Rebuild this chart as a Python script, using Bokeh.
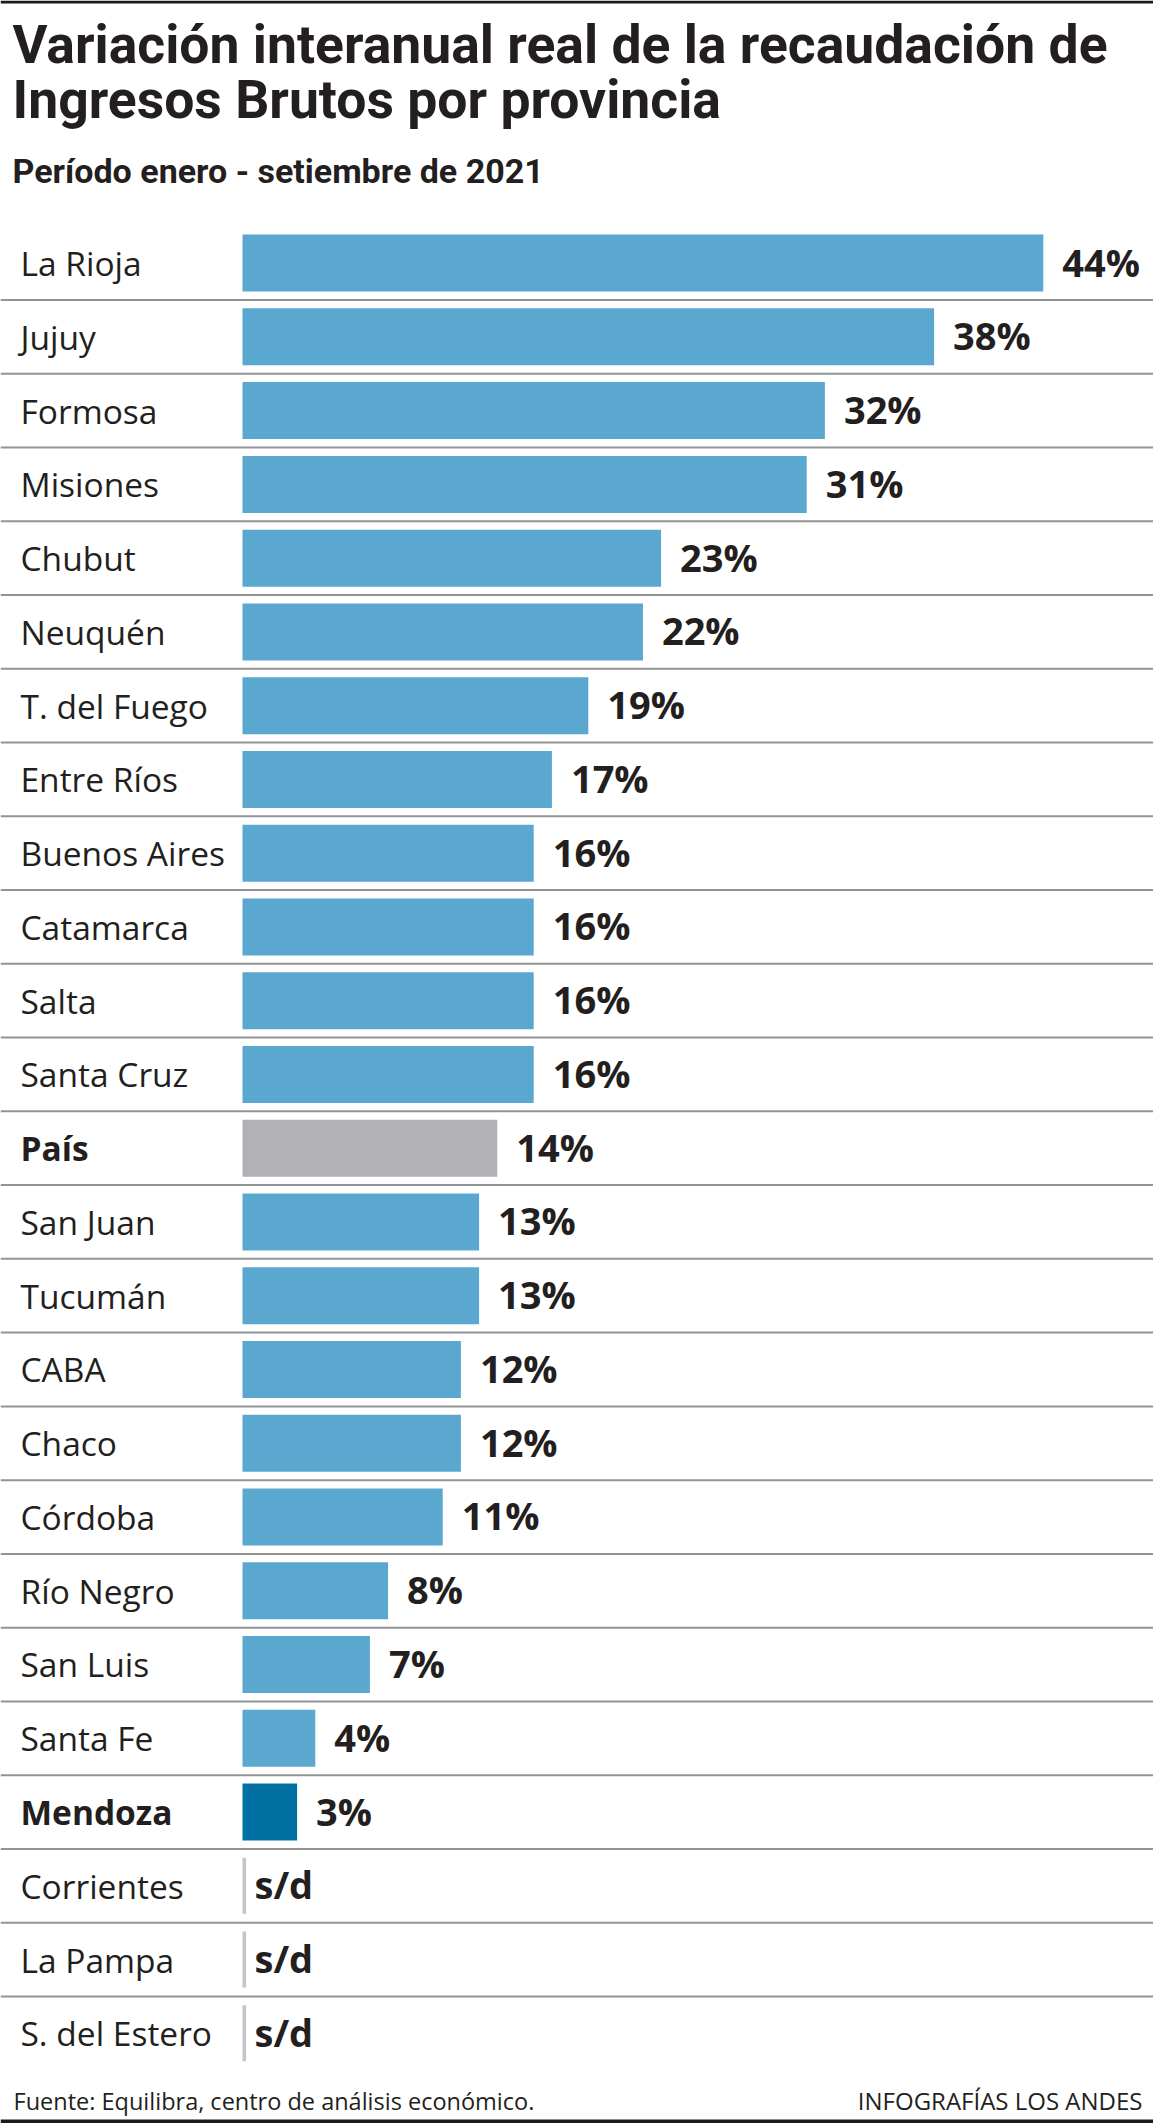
from bokeh.plotting import figure
from bokeh.models import Range1d, Label, ColumnDataSource
from bokeh.embed import file_html
from bokeh.resources import INLINE
from bokeh.core.properties import value

# ---------------- data ----------------
provinces = ["La Rioja", "Jujuy", "Formosa", "Misiones", "Chubut", "Neuquén",
             "T. del Fuego", "Entre Ríos", "Buenos Aires", "Catamarca", "Salta",
             "Santa Cruz", "País", "San Juan", "Tucumán", "CABA", "Chaco",
             "Córdoba", "Río Negro", "San Luis", "Santa Fe", "Mendoza",
             "Corrientes", "La Pampa", "S. del Estero"]
values = [44, 38, 32, 31, 23, 22, 19, 17, 16, 16, 16, 16, 14, 13, 13, 12, 12,
          11, 8, 7, 4, 3, None, None, None]
bold_rows = ["País", "Mendoza"]
special_colors = {"País": "#b1b1b6", "Mendoza": "#0071a2"}
base_color = "#5aa8d0"
missing_text = "s/d"

title_lines = ["Variación interanual real de la recaudación de",
               "Ingresos Brutos por provincia"]
subtitle = "Período enero - setiembre de 2021"
source_text = "Fuente: Equilibra, centro de análisis económico."
credit_text = "INFOGRAFÍAS LOS ANDES"

# ---------------- layout ----------------
W, H = 1153, 2123
X0_PX, PX_PER_PCT = 242.0, 18.2
ROW0_PX, ROW_PITCH = 262.6, 73.76
SHIFT = 0.33  # empirical baseline correction (fraction of font size)

def dx(px):
    return (px - X0_PX) / PX_PER_PCT

def dy(py):
    return (py - ROW0_PX) / ROW_PITCH

def fpx(s):
    return f"{s:.1f}px"

TXT = "#231f20"
HEAD = "Roboto"
REG = "Open Sans"

p = figure(width=W, height=H,
           x_range=Range1d(dx(0), dx(W)),
           y_range=Range1d(dy(H), dy(0)),
           output_backend="svg", toolbar_location=None,
           x_axis_location=None, y_axis_location=None,
           min_border=0)
p.grid.visible = False
p.outline_line_color = None
p.background_fill_color = "white"
p.border_fill_color = "white"

n = len(provinces)
idx = list(range(n))

# separators
sep_y = [i + 0.5 for i in range(n - 1)]
p.segment(x0=dx(0), x1=dx(W), y0=sep_y, y1=sep_y,
          line_color="#939393", line_width=2)

# top / bottom rules
p.quad(left=dx(0), right=dx(W), top=dy(0), bottom=dy(3), fill_color="#1a1a1a", line_color=None)
p.quad(left=dx(0), right=dx(W), top=dy(2119), bottom=dy(H), fill_color="#1a1a1a", line_color=None)

VAL_FS = 38
CAT_FS = 33.5

def base_y(i, fs):
    # row centre + half cap height, minus empirical correction
    return i + (11 - SHIFT * fs) / ROW_PITCH

# bars
bar_y, bar_v, bar_c, lab_x, lab_y, lab_t = [], [], [], [], [], []
miss_y = []
for i, (name, v) in enumerate(zip(provinces, values)):
    if v is None:
        miss_y.append(i)
        continue
    bar_y.append(i)
    bar_v.append(v)
    bar_c.append(special_colors.get(name, base_color))
    lab_x.append(v + 19 / PX_PER_PCT)
    lab_y.append(base_y(i, VAL_FS))
    lab_t.append(f"{v}%")

bars = ColumnDataSource(dict(y=bar_y, v=bar_v, c=bar_c))
p.hbar(y="y", left=0, right="v", height=57 / ROW_PITCH, fill_color="c",
       line_color=None, source=bars)

labs = ColumnDataSource(dict(x=lab_x, y=lab_y, t=lab_t))
p.text(x="x", y="y", text="t", source=labs, text_font=value(REG),
       text_font_style="bold", text_font_size=fpx(VAL_FS), text_color=TXT,
       text_baseline="alphabetic", text_align="left")

# missing-data markers
p.hbar(y=miss_y, left=0, right=3.6 / PX_PER_PCT, height=56 / ROW_PITCH,
       fill_color="#c4c4ca", line_color=None)
p.text(x=[dx(254)] * len(miss_y), y=[base_y(i, VAL_FS) for i in miss_y],
       text=[missing_text] * len(miss_y), text_font=value(REG),
       text_font_style="bold", text_font_size=fpx(VAL_FS), text_color=TXT,
       text_baseline="alphabetic")

# category labels
norm_i = [i for i in idx if provinces[i] not in bold_rows]
bold_i = [i for i in idx if provinces[i] in bold_rows]
p.text(x=[dx(20)] * len(norm_i), y=[base_y(i, CAT_FS) for i in norm_i],
       text=[provinces[i] for i in norm_i], text_font=value(REG),
       text_font_size=fpx(CAT_FS), text_color=TXT, text_baseline="alphabetic")
p.text(x=[dx(20)] * len(bold_i), y=[base_y(i, CAT_FS) for i in bold_i],
       text=[provinces[i] for i in bold_i], text_font=value(REG),
       text_font_style="bold", text_font_size=fpx(CAT_FS), text_color=TXT,
       text_baseline="alphabetic")

# titles
TITLE_FS = 53.5
for line, base in zip(title_lines, [62, 117]):
    p.add_layout(Label(x=dx(12), y=dy(base - SHIFT * TITLE_FS), text=line, text_font=HEAD,
                       text_font_style="bold", text_font_size=fpx(TITLE_FS),
                       text_color=TXT, text_baseline="alphabetic"))
SUB_FS = 34
p.add_layout(Label(x=dx(12), y=dy(182 - SHIFT * SUB_FS), text=subtitle, text_font=HEAD,
                   text_font_style="bold", text_font_size=fpx(SUB_FS),
                   text_color=TXT, text_baseline="alphabetic"))

# footer
p.add_layout(Label(x=dx(13), y=dy(2108 - SHIFT * 23.5), text=source_text, text_font=REG,
                   text_font_size=fpx(23.5), text_color=TXT,
                   text_baseline="alphabetic"))
p.add_layout(Label(x=dx(1142), y=dy(2108 - SHIFT * 24), text=credit_text, text_font=REG,
                   text_font_size=fpx(24), text_color=TXT,
                   text_baseline="alphabetic", text_align="right"))

open("out.html", "w").write(file_html(p, INLINE))
